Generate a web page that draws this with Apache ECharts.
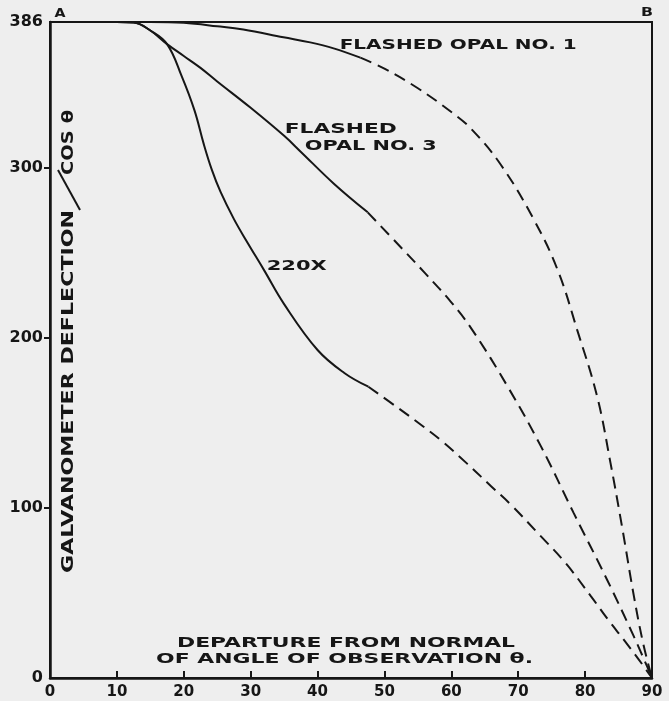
<!DOCTYPE html>
<html>
<head>
<meta charset="utf-8">
<script src="https://cdn.jsdelivr.net/npm/echarts@6/dist/echarts.min.js"></script>
<style>
  html, body { margin: 0; background: #eeeeee; }
  #chart { width: 669px; height: 701px; }
</style>
</head>
<body>
<div id="chart"></div>
<script>
// axis values
const xTicks = [0, 10, 20, 30, 40, 50, 60, 70, 80, 90];
const yLabels = [0, 100, 200, 300, 386];
const yTicks = [100, 200, 300];

// curves, [angle, deflection / cos]
const opal1Solid = [[0, 386], [10, 386], [15, 386], [20, 385.5], [25, 383.5], [28.9, 381.6], [34.9, 377], [38.9, 374], [42.4, 370.5], [46.4, 365]];
const opal1Dashed = [[46.4, 365], [50, 358.5], [55, 347], [60, 333], [63, 323], [67.4, 302], [72.3, 270], [75.9, 240], [78.8, 205], [81.8, 165.6], [83.8, 126.4], [85.6, 87.2], [87.3, 48], [88.7, 20], [90, 0]];

const opal3Solid = [[0, 386], [10, 386], [12.5, 385.7], [15, 381], [17.5, 373], [20, 366], [22.5, 359], [25, 351], [30, 335.5], [35, 319], [37.4, 310], [42.4, 291], [47.5, 274]];
const opal3Dashed = [[47.5, 274], [52.8, 252], [56, 238.5], [59.9, 221.5], [63.1, 205], [68.4, 171.6], [73.4, 136.3], [78.3, 97], [83.3, 57.7], [87.3, 24.3], [89.3, 6.5], [90, 0]];

const x220Solid = [[0, 386], [10, 386], [12.5, 385.7], [15, 381], [17.5, 373], [19.7, 354], [21.6, 334], [23, 314], [24.2, 299], [25.5, 286], [27.5, 270], [29.4, 257], [32, 240], [35, 220], [40, 193], [44, 179.5], [47.6, 171.4]];
const x220Dashed = [[47.6, 171.4], [52, 159], [55.8, 148], [58.4, 140], [62.4, 126], [65.9, 113], [68.9, 102], [73.4, 83.3], [77, 68], [80.8, 48.5], [83.5, 34], [85.8, 22.4], [88, 11], [90, 0]];

const INK = '#161616';
const FONT = '"DejaVu Sans", sans-serif';

const chart = echarts.init(document.getElementById('chart'));

function curve(data, dashed) {
  return {
    type: 'line',
    data: data,
    symbol: 'none',
    smooth: 0.4,
    silent: true,
    lineStyle: { color: INK, width: 2, type: dashed ? [12, 7] : 'solid' }
  };
}

chart.setOption({
  animation: false,
  backgroundColor: '#eeeeee',
  grid: {
    left: 50, right: 17, top: 22, bottom: 23,
    show: true, borderColor: INK, borderWidth: 2,
    outerBoundsMode: 'none'
  },
  xAxis: {
    type: 'value', min: 0, max: 90, interval: 10,
    axisLine: { lineStyle: { color: INK, width: 2.5 } },
    axisTick: { inside: true, length: 7, lineStyle: { color: INK, width: 2 } },
    axisLabel: { color: INK, fontFamily: FONT, fontWeight: 'bold', fontSize: 15, margin: 7 },
    splitLine: { show: false }
  },
  yAxis: {
    type: 'value', min: 0, max: 386,
    axisLine: { show: true, lineStyle: { color: INK, width: 2.5 } },
    axisTick: { show: true, customValues: yTicks, length: 6, lineStyle: { color: INK, width: 2 } },
    axisLabel: { customValues: yLabels, color: INK, fontFamily: FONT, fontWeight: 'bold', fontSize: 16, margin: 7 },
    splitLine: { show: false }
  },
  series: [
    curve(opal1Solid, false), curve(opal1Dashed, true),
    curve(opal3Solid, false), curve(opal3Dashed, true),
    curve(x220Solid, false), curve(x220Dashed, true)
  ]
});

// hand lettering is wide, so each text is stretched to the width it takes on the plate
const ctx = document.createElement('canvas').getContext('2d');
function stretched(text, size, width, x, y, opts) {
  opts = opts || {};
  const font = 'bold ' + size + 'px ' + FONT;
  ctx.font = font;
  const sx = width / ctx.measureText(text).width;
  return {
    type: 'text', x: x, y: y, scaleX: sx, rotation: opts.rotation || 0, silent: true,
    style: { text: text, font: font, fill: INK, align: opts.align || 'left', verticalAlign: 'middle' }
  };
}

// curve labels anchored in data space: [angle, value, text, width]
const curveNotes = [
  [43.3, 372.5, 'FLASHED OPAL NO. 1', 237],
  [35.1, 323, 'FLASHED', 112],
  [38.1, 313, 'OPAL NO. 3', 132],
  [32.4, 242.4, '220X', 60]
];

const graphics = curveNotes.map(function (n) {
  const p = chart.convertToPixel({ gridIndex: 0 }, [n[0], n[1]]);
  return stretched(n[2], 14, n[3], p[0], p[1]);
});

graphics.push(
  stretched('DEPARTURE FROM NORMAL', 14, 338, 346, 643, { align: 'center' }),
  stretched('OF ANGLE OF OBSERVATION θ.', 14, 377, 344.5, 659, { align: 'center' }),
  stretched('GALVANOMETER DEFLECTION', 15, 363, 69, 391.5, { align: 'center', rotation: Math.PI / 2 }),
  stretched('COS θ', 15, 65, 69, 142.5, { align: 'center', rotation: Math.PI / 2 }),
  stretched('A', 13, 11, 60, 14, { align: 'center' }),
  stretched('B', 13, 12, 647, 13, { align: 'center' }),
  {
    type: 'line', silent: true,
    shape: { x1: 58, y1: 170, x2: 80, y2: 210 },
    style: { stroke: INK, lineWidth: 2 }
  }
);

chart.setOption({ graphic: graphics });
</script>
</body>
</html>
